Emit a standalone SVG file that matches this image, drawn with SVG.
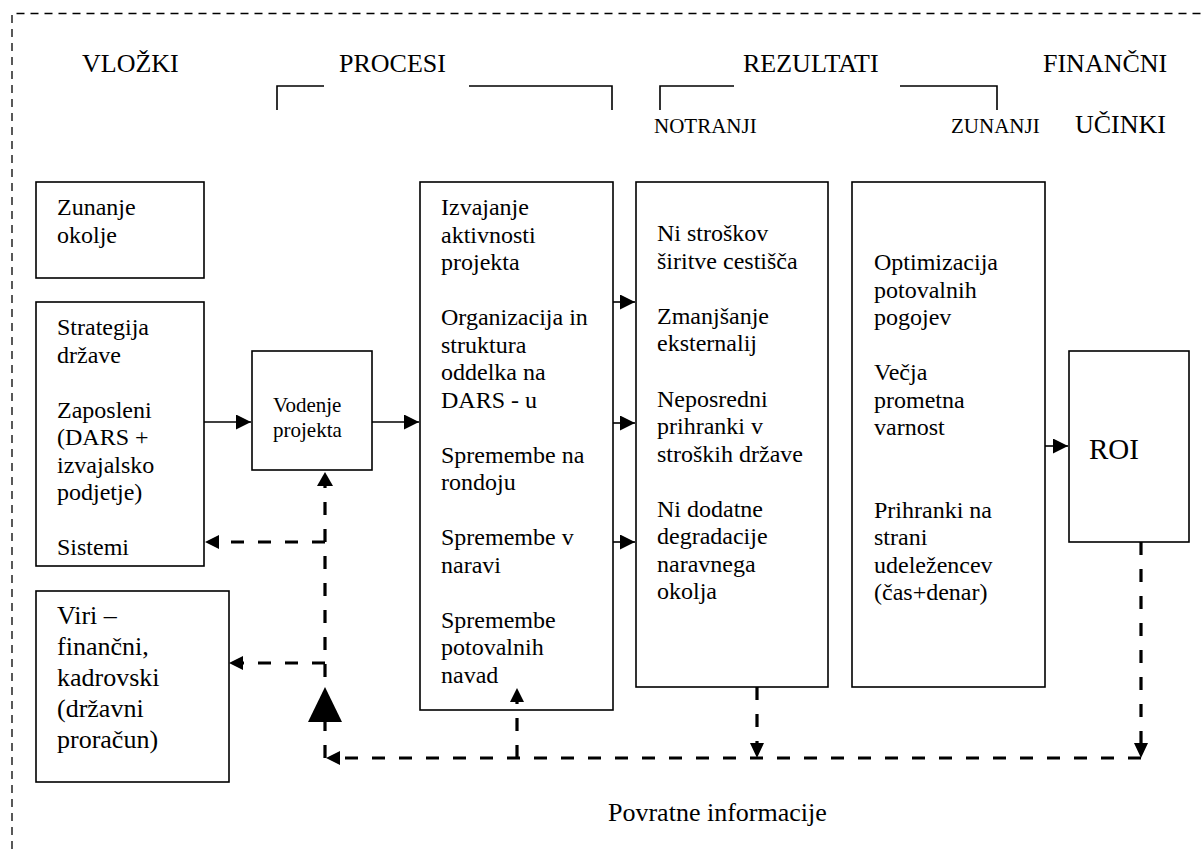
<svg xmlns="http://www.w3.org/2000/svg" width="1203" height="849" viewBox="0 0 1203 849" font-family="'Liberation Serif','Times New Roman',serif">
<defs>
<style>
text{font-family:"Liberation Serif","Times New Roman",serif;fill:#000}
.b{font-size:24px}
.h{font-size:26px}
.s{font-size:21px}
.box{fill:#fff;stroke:#000;stroke-width:1.6}
.sol{fill:none;stroke:#000;stroke-width:1.6}
.dsh{fill:none;stroke:#000;stroke-width:3.2;stroke-dasharray:13 14}
.frame{fill:none;stroke:#000;stroke-width:1.3;stroke-dasharray:8 6}
</style>
<marker id="ah" markerUnits="userSpaceOnUse" markerWidth="16" markerHeight="16" refX="15" refY="7.5" orient="auto">
<path d="M0,0 L15,7.5 L0,15 z" fill="#000"/>
</marker>
</defs>
<rect width="1203" height="849" fill="#fff"/>
<path class="frame" d="M12,849 V13.5 H1203"/>

<g id="headers">
<text class="h" x="82" y="72">VLOŽKI</text>
<text class="h" x="339" y="72">PROCESI</text>
<text class="h" x="743" y="72">REZULTATI</text>
<text class="h" x="1043" y="72">FINANČNI</text>
<text class="s" x="654" y="133">NOTRANJI</text>
<text class="s" x="951" y="133">ZUNANJI</text>
<text class="h" x="1075" y="133">UČINKI</text>
<path class="sol" d="M277,110 V86 H324 M469,86 H612 V110 M660,110 V86 H734 M900,86 H997 V110"/>
</g>

<g id="zunanje-okolje">
<rect class="box" x="36" y="182" width="168" height="96"/>
<text class="b" x="57" y="215">Zunanje</text>
<text class="b" x="57" y="242.5">okolje</text>
</g>

<g id="strategija">
<rect class="box" x="36" y="302" width="168" height="264"/>
<text class="b" x="57" y="335">Strategija</text>
<text class="b" x="57" y="362.5">države</text>
<text class="b" x="57" y="417.5">Zaposleni</text>
<text class="b" x="57" y="445">(DARS +</text>
<text class="b" x="57" y="472.5">izvajalsko</text>
<text class="b" x="57" y="500">podjetje)</text>
<text class="b" x="57" y="555">Sistemi</text>
</g>

<g id="viri">
<rect class="box" x="36" y="591" width="193" height="191"/>
<text class="h" x="57" y="624">Viri –</text>
<text class="h" x="57" y="655">finančni,</text>
<text class="h" x="57" y="686">kadrovski</text>
<text class="h" x="57" y="717">(državni</text>
<text class="h" x="57" y="748">proračun)</text>
</g>

<g id="vodenje">
<rect class="box" x="252" y="351" width="120" height="119"/>
<text class="s" x="273" y="412">Vodenje</text>
<text class="s" x="273" y="437">projekta</text>
</g>

<g id="izvajanje">
<rect class="box" x="420" y="182" width="193" height="528"/>
<text class="b" x="441" y="215">Izvajanje</text>
<text class="b" x="441" y="242.5">aktivnosti</text>
<text class="b" x="441" y="270">projekta</text>
<text class="b" x="441" y="325">Organizacija in</text>
<text class="b" x="441" y="352.5">struktura</text>
<text class="b" x="441" y="380">oddelka na</text>
<text class="b" x="441" y="407.5">DARS - u</text>
<text class="b" x="441" y="462.5">Spremembe na</text>
<text class="b" x="441" y="490">rondoju</text>
<text class="b" x="441" y="545">Spremembe v</text>
<text class="b" x="441" y="572.5">naravi</text>
<text class="b" x="441" y="627.5">Spremembe</text>
<text class="b" x="441" y="655">potovalnih</text>
<text class="b" x="441" y="682.5">navad</text>
</g>

<g id="notranji">
<rect class="box" x="636" y="182" width="192" height="505"/>
<text class="b" x="657" y="241">Ni stroškov</text>
<text class="b" x="657" y="268.5">širitve cestišča</text>
<text class="b" x="657" y="323.5">Zmanjšanje</text>
<text class="b" x="657" y="351">eksternalij</text>
<text class="b" x="657" y="406.5">Neposredni</text>
<text class="b" x="657" y="434">prihranki v</text>
<text class="b" x="657" y="461.5">stroških države</text>
<text class="b" x="657" y="516.5">Ni dodatne</text>
<text class="b" x="657" y="544">degradacije</text>
<text class="b" x="657" y="571.5">naravnega</text>
<text class="b" x="657" y="599">okolja</text>
</g>

<g id="zunanji">
<rect class="box" x="852" y="182" width="193" height="505"/>
<text class="b" x="874" y="270">Optimizacija</text>
<text class="b" x="874" y="297.5">potovalnih</text>
<text class="b" x="874" y="325">pogojev</text>
<text class="b" x="874" y="380">Večja</text>
<text class="b" x="874" y="407.5">prometna</text>
<text class="b" x="874" y="435">varnost</text>
<text class="b" x="874" y="517.5">Prihranki na</text>
<text class="b" x="874" y="545">strani</text>
<text class="b" x="874" y="572.5">udeležencev</text>
<text class="b" x="874" y="600">(čas+denar)</text>
</g>

<g id="roi">
<rect class="box" x="1069" y="351" width="120" height="191"/>
<text x="1089" y="459" style="font-size:29px">ROI</text>
</g>

<g id="feedback-label">
<text class="h" x="608" y="821">Povratne informacije</text>
</g>

<g id="connectors">
<path class="sol" d="M204,422 H251" marker-end="url(#ah)"/>
<path class="sol" d="M372,422 H419" marker-end="url(#ah)"/>
<path class="sol" d="M613,302 H635" marker-end="url(#ah)"/>
<path class="sol" d="M613,423 H635" marker-end="url(#ah)"/>
<path class="sol" d="M613,542 H635" marker-end="url(#ah)"/>
<path class="sol" d="M1045,446 H1068" marker-end="url(#ah)"/>
<path class="dsh" d="M325,758 V486"/>
<path d="M325,472 L333,486 L317,486 z"/>
<path class="dsh" d="M325,542 H219"/>
<path d="M205,542 L219,535 L219,549 z"/>
<path class="dsh" d="M325,663 H243"/>
<path d="M229,663 L243,656 L243,670 z"/>
<path d="M325,687 L342,722 L308,722 z"/>
<path class="dsh" d="M1141,758 H340"/>
<path d="M326,758 L340,751 L340,765 z"/>
<path class="dsh" d="M757,687 V743"/>
<path d="M757,758 L750,743 L764,743 z"/>
<path class="dsh" d="M1141,542 V743"/>
<path d="M1141,758 L1134,743 L1148,743 z"/>
<path class="dsh" d="M517,758 V702"/>
<path d="M517,688 L524,702 L510,702 z"/>
</g>
</svg>
